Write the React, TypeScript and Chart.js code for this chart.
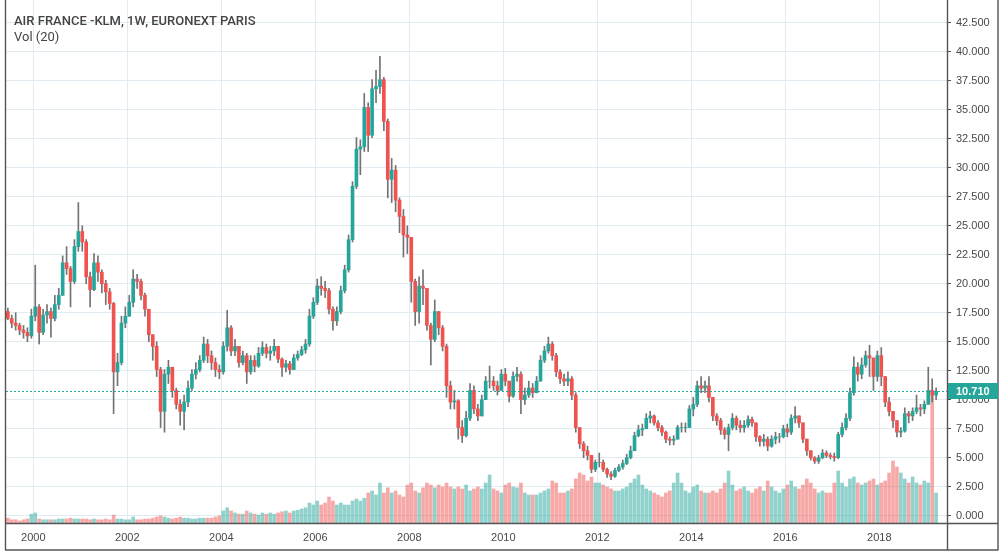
import React, { useEffect, useRef } from 'react';
import { Chart, registerables } from 'chart.js';

Chart.register(...registerables);

// Monthly candles, first candle = June 1999, last = March 2019
const START_YEAR = 1999;
const START_MONTH = 6;
const FIRST_OPEN = 17.6;

const CLOSE = [
  17.0, 16.6, 16.4, 16.0, 15.8, 15.5, 17.2,
  18.0, 15.8, 17.3, 17.6, 17.0, 18.2, 19.0, 21.8, 21.3, 20.2, 23.2, 24.5,
  23.6, 20.6, 19.5, 21.8, 21.0, 20.0, 19.3, 18.3, 12.4, 13.2, 16.6, 17.2,
  18.4, 20.4, 20.2, 19.0, 17.8, 15.6, 14.6, 12.6, 9.0, 12.2, 12.8, 10.8,
  9.6, 9.0, 9.8, 11.0, 12.2, 12.6, 13.4, 14.8, 13.8, 13.2, 12.6, 12.4,
  14.6, 16.2, 14.2, 14.6, 13.2, 13.8, 12.4, 13.4, 12.9, 14.0, 14.5, 14.0,
  14.2, 14.6, 13.5, 12.8, 13.1, 12.6, 13.6, 13.9, 14.3, 14.8, 17.2, 18.4,
  19.8, 19.6, 19.4, 17.8, 16.8, 17.6, 19.4, 21.2, 23.8, 28.4, 31.6, 31.8,
  35.2, 32.8, 36.8, 37.0, 37.6, 34.0, 29.0, 29.8, 27.2, 25.8, 24.2, 24.0,
  20.2, 17.6, 19.8, 19.6, 16.4, 15.2, 17.6, 16.2, 14.6, 11.2, 9.8, 9.9,
  7.6, 6.9, 8.4, 10.8, 9.2, 8.6, 10.0, 11.6, 11.6, 11.2, 10.8, 12.2,
  11.6, 10.3, 12.0, 12.2, 10.0, 10.4, 11.0, 10.6, 11.6, 13.4, 14.2, 14.8,
  13.8, 12.4, 11.8, 11.6, 11.8, 10.4, 7.6, 6.2, 5.6, 5.2, 4.0, 4.6,
  4.6, 4.0, 3.6, 3.4, 3.9, 4.2, 4.5, 5.0, 5.6, 6.9, 7.4, 7.5,
  8.4, 8.6, 8.0, 7.6, 7.2, 6.6, 6.5, 6.6, 7.6, 7.6, 7.6, 9.2,
  9.6, 11.2, 11.0, 11.2, 10.2, 8.6, 8.2, 7.4, 7.0, 7.6, 8.4, 7.8,
  7.6, 7.8, 8.3, 8.0, 6.8, 6.4, 6.6, 6.0, 6.6, 6.8, 6.8, 7.5,
  7.2, 8.4, 8.6, 8.0, 6.6, 5.6, 5.0, 4.7, 5.0, 5.4, 5.2, 5.1,
  5.0, 7.0, 7.6, 8.4, 10.6, 12.8, 12.2, 13.0, 13.8, 13.6, 12.0, 13.8,
  12.0, 9.8, 9.0, 8.2, 7.2, 7.3, 8.8, 8.6, 9.0, 9.3, 9.2, 9.6,
  10.8, 10.4, 10.71,
];

const HIGH = [
  17.9, 17.3, 17.5, 16.6, 16.4, 16.2, 17.8,
  21.6, 18.2, 17.8, 18.2, 17.9, 19.0, 19.6, 22.4, 23.2, 21.5, 23.8, 27.0,
  25.0, 23.8, 21.0, 22.6, 22.4, 21.2, 20.3, 19.6, 18.4, 14.0, 17.2, 18.0,
  19.0, 21.2, 20.8, 20.4, 19.2, 17.6, 15.4, 15.0, 12.8, 12.6, 13.4, 12.4,
  11.0, 10.0, 10.4, 11.6, 12.6, 13.2, 13.8, 15.4, 15.2, 14.2, 13.6, 13.0,
  15.0, 17.7, 16.4, 15.2, 14.6, 14.2, 14.0, 13.8, 13.8, 14.5, 15.0, 14.8,
  14.6, 15.2, 14.6, 13.6, 13.4, 13.3, 13.9, 14.2, 14.6, 15.2, 17.8, 18.8,
  20.4, 20.6, 20.2, 19.6, 18.0, 18.0, 19.8, 21.6, 24.2, 28.8, 32.6, 32.4,
  36.4, 35.6, 37.6, 38.4, 39.6, 37.8, 34.2, 30.8, 30.2, 27.4, 26.4, 25.0,
  23.0, 20.4, 20.6, 21.2, 19.0, 16.6, 18.6, 17.6, 16.4, 14.8, 11.6, 10.8,
  10.0, 8.2, 9.0, 11.4, 11.2, 9.6, 10.4, 12.0, 12.9, 12.0, 11.6, 12.6,
  12.7, 11.6, 12.4, 12.8, 12.4, 11.0, 11.6, 11.4, 12.0, 13.8, 14.6, 15.4,
  15.0, 14.0, 12.6, 12.2, 12.4, 12.0, 10.6, 7.4, 6.4, 6.0, 5.2, 4.8,
  5.4, 4.8, 4.1, 3.8, 4.1, 4.4, 4.8, 5.3, 6.0, 7.2, 7.8, 7.9,
  8.8, 9.0, 8.7, 8.2, 7.8, 7.3, 6.8, 6.9, 7.8, 8.0, 8.0, 9.5,
  10.2, 11.6, 12.0, 11.6, 12.0, 10.2, 8.8, 8.4, 7.6, 7.9, 8.8, 8.6,
  8.2, 8.2, 8.6, 8.5, 8.0, 6.9, 7.0, 6.8, 6.9, 7.2, 7.1, 7.8,
  7.9, 8.7, 9.4, 8.6, 8.0, 6.6, 5.6, 5.1, 5.2, 5.7, 5.6, 5.4,
  5.4, 7.2, 8.0, 8.8, 11.0, 13.7, 13.2, 13.6, 14.2, 14.7, 13.6, 14.2,
  14.5, 12.0, 10.2, 9.0, 8.2, 7.6, 9.3, 9.0, 9.3, 10.4, 9.6, 9.9,
  12.8, 11.8, 11.0,
];

const LOW = [
  16.9, 16.2, 16.0, 15.6, 15.3, 15.0, 15.3,
  16.8, 14.8, 15.6, 16.6, 15.4, 16.8, 17.8, 19.2, 20.8, 18.0, 20.0, 22.8,
  22.8, 20.0, 18.0, 19.4, 20.2, 19.2, 18.2, 17.8, 8.8, 11.2, 13.0, 16.2,
  17.4, 18.0, 19.6, 18.6, 17.2, 15.0, 13.4, 12.0, 7.6, 7.2, 11.4, 10.2,
  9.2, 7.8, 7.4, 9.4, 10.8, 11.8, 12.4, 13.2, 13.2, 12.6, 12.0, 11.8,
  12.2, 14.2, 13.8, 13.8, 12.8, 13.0, 11.4, 12.2, 12.4, 12.8, 13.8, 13.6,
  13.4, 13.8, 13.2, 12.0, 12.4, 12.2, 12.6, 13.4, 13.8, 14.0, 14.6, 17.0,
  18.2, 19.0, 18.8, 17.4, 16.0, 16.4, 17.4, 19.2, 21.0, 23.6, 28.2, 29.4,
  31.4, 31.4, 32.6, 35.6, 36.4, 33.2, 27.4, 27.0, 26.2, 24.4, 22.3, 22.6,
  18.4, 16.4, 16.6, 18.2, 16.0, 13.0, 15.0, 15.6, 14.2, 10.2, 9.2, 9.2,
  6.6, 6.3, 6.8, 8.2, 8.8, 8.2, 8.6, 10.0, 11.0, 10.8, 10.4, 10.8,
  11.2, 9.8, 10.2, 11.6, 8.8, 9.6, 10.2, 10.2, 10.6, 11.6, 13.2, 14.0,
  13.4, 12.0, 11.4, 11.2, 11.2, 10.0, 7.2, 5.8, 5.0, 4.8, 3.7, 3.8,
  4.2, 3.8, 3.3, 3.1, 3.3, 3.8, 4.0, 4.4, 4.9, 5.6, 6.8, 6.9,
  7.6, 8.0, 7.8, 7.3, 6.9, 6.3, 6.1, 6.1, 6.6, 7.2, 7.2, 7.6,
  8.6, 9.4, 10.6, 10.6, 9.8, 8.2, 7.8, 7.0, 6.6, 5.6, 7.4, 7.4,
  7.2, 7.2, 7.6, 7.7, 6.4, 6.0, 6.0, 5.6, 5.9, 6.2, 6.3, 6.7,
  6.8, 7.0, 8.0, 7.6, 6.3, 5.2, 4.8, 4.5, 4.5, 4.9, 5.0, 4.9,
  4.7, 4.9, 6.8, 7.4, 8.2, 10.4, 11.6, 11.8, 12.8, 12.0, 10.8, 11.6,
  11.2, 9.4, 8.6, 7.6, 6.8, 6.8, 7.2, 8.0, 8.2, 8.8, 8.6, 8.8,
  9.6, 9.8, 10.0,
];

// Volume, millions of shares (approximate)
const VOLUME = [
  1.2, 0.8, 0.8, 0.5, 0.8, 1.0, 2.2,
  2.5, 1.0, 0.8, 0.8, 0.8, 0.8, 1.0, 1.0, 1.0, 1.2, 1.0, 1.0,
  1.0, 1.0, 0.8, 1.0, 0.8, 0.8, 1.0, 0.8, 2.0, 1.0, 1.0, 0.8,
  0.8, 1.5, 0.8, 0.8, 1.0, 1.0, 1.2, 1.5, 1.8, 1.5, 1.2, 1.0,
  1.2, 1.5, 1.2, 1.2, 1.0, 1.0, 1.2, 1.2, 1.2, 1.2, 1.5, 1.8,
  3.0, 3.8, 3.0, 2.5, 2.2, 2.2, 3.0, 2.5, 2.2, 2.0, 2.5, 2.2,
  2.5, 2.2, 2.5, 2.8, 3.0, 2.5, 3.0, 3.2, 3.5, 3.8, 5.0, 4.5,
  5.5, 4.5, 5.0, 6.5, 5.5, 4.5, 5.0, 4.5, 4.5, 5.5, 6.0, 5.5,
  6.2, 7.5, 8.0, 7.0, 10.0, 7.5, 8.8, 7.5, 8.0, 7.0, 6.5, 9.5,
  10.0, 8.0, 7.5, 8.8, 10.0, 9.5, 8.8, 9.5, 9.0, 10.0, 9.0, 8.5,
  9.0, 8.5, 9.5, 8.0, 8.5, 9.0, 8.5, 10.0, 12.0, 8.5, 8.0, 7.5,
  9.5, 10.0, 9.0, 8.8, 10.0, 7.5, 7.0, 7.0, 7.0, 7.5, 8.0, 8.5,
  10.5, 10.0, 7.5, 7.5, 8.0, 8.5, 11.0, 12.5, 12.0, 10.5, 11.5, 10.0,
  10.0, 9.5, 9.0, 8.5, 8.0, 8.0, 8.5, 9.0, 10.0, 11.0, 12.0, 9.5,
  8.5, 8.0, 7.5, 7.0, 6.5, 7.5, 8.0, 10.0, 12.5, 10.0, 8.0, 7.5,
  9.0, 9.5, 8.0, 7.5, 7.5, 8.0, 7.5, 8.5, 10.0, 13.0, 9.5, 8.0,
  8.5, 9.0, 8.0, 7.5, 8.5, 9.0, 8.0, 10.5, 9.0, 8.0, 7.5, 8.5,
  9.5, 10.5, 9.0, 8.5, 9.5, 11.0, 10.0, 8.5, 7.5, 8.0, 7.5, 7.5,
  10.0, 13.0, 10.0, 9.0, 11.0, 11.5, 10.0, 9.5, 10.0, 10.5, 11.0, 9.5,
  10.0, 10.5, 12.5, 15.5, 14.0, 12.5, 11.0, 10.0, 11.5, 10.0, 9.5, 10.5,
  10.0, 32.0, 7.5,
];

const PRICE_TICKS = [0, 2.5, 5, 7.5, 10, 12.5, 15, 17.5, 20, 22.5, 25, 27.5, 30, 32.5, 35, 37.5, 40, 42.5];
const YEAR_TICKS = [2000, 2002, 2004, 2006, 2008, 2010, 2012, 2014, 2016, 2018];
const LAST_PRICE = 10.71;
const TITLE = 'AIR FRANCE -KLM, 1W, EURONEXT PARIS';
const SUBTITLE = 'Vol (20)';

const UP = '#26a69a';
const DOWN = '#ef5350';
const UP_VOL = 'rgba(38,166,154,0.5)';
const DOWN_VOL = 'rgba(239,83,80,0.5)';
const WICK = '#737375';
const GRID = '#e1ecf2';
const FRAME = '#555555';
const TEXT = '#4a4a4a';
const FONT = '"Liberation Sans", Arial, sans-serif';

export default function App() {
  const canvasRef = useRef<HTMLCanvasElement | null>(null);

  useEffect(() => {
    document.body.style.margin = '0';
    const canvas = canvasRef.current;
    if (!canvas) return;

    const xs = CLOSE.map((_, i) => START_YEAR + (START_MONTH - 1 + i + 0.5) / 12);
    const opens = CLOSE.map((_, i) => (i === 0 ? FIRST_OPEN : CLOSE[i - 1]));
    const isUp = CLOSE.map((c, i) => c >= opens[i]);

    const bodies = CLOSE.map((c, i) => ({ x: xs[i], y: [opens[i], c] }));
    const wicks = CLOSE.map((c, i) => ({
      x: xs[i],
      y: [Math.min(LOW[i], opens[i], c), Math.max(HIGH[i], opens[i], c)],
    }));
    const vols = VOLUME.map((v, i) => ({ x: xs[i], y: v }));

    const overlay = {
      id: 'overlay',
      afterDraw(chart: any) {
        const { ctx, chartArea, scales } = chart;
        const yy = Math.round(scales.y.getPixelForValue(LAST_PRICE)) + 0.5;
        ctx.save();
        ctx.strokeStyle = UP;
        ctx.lineWidth = 1;
        ctx.setLineDash([2, 2]);
        ctx.beginPath();
        ctx.moveTo(chartArea.left, yy);
        ctx.lineTo(chartArea.right, yy);
        ctx.stroke();
        ctx.setLineDash([]);

        ctx.strokeStyle = FRAME;
        ctx.lineWidth = 1.4;
        ctx.beginPath();
        ctx.moveTo(5.5, 0); ctx.lineTo(5.5, 550);
        ctx.moveTo(947.5, 0); ctx.lineTo(947.5, 550);
        ctx.moveTo(998, 0); ctx.lineTo(998, 550);
        ctx.moveTo(5, 523.5); ctx.lineTo(998, 523.5);
        ctx.moveTo(5, 550); ctx.lineTo(998.5, 550);
        ctx.stroke();

        ctx.fillStyle = UP;
        ctx.fillRect(948, yy - 8.5, 50, 16);
        ctx.fillStyle = '#ffffff';
        ctx.font = `bold 11px ${FONT}`;
        ctx.textBaseline = 'middle';
        ctx.textAlign = 'left';
        ctx.fillText(LAST_PRICE.toFixed(3), 956, yy);
        ctx.restore();
      },
    };

    const chart = new Chart(canvas, {
      type: 'bar',
      data: {
        datasets: [
          {
            label: 'body',
            data: bodies as any,
            backgroundColor: isUp.map((u) => (u ? UP : DOWN)),
            yAxisID: 'y',
            grouped: false,
            barPercentage: 1,
            categoryPercentage: 1,
            maxBarThickness: 3,
            borderWidth: 0,
            order: 1,
          } as any,
          {
            label: 'wick',
            data: wicks as any,
            backgroundColor: WICK,
            yAxisID: 'y',
            grouped: false,
            barPercentage: 1,
            categoryPercentage: 1,
            maxBarThickness: 1,
            borderWidth: 0,
            order: 2,
          } as any,
          {
            label: 'volume',
            data: vols as any,
            backgroundColor: isUp.map((u) => (u ? UP_VOL : DOWN_VOL)),
            yAxisID: 'yVol',
            grouped: false,
            barPercentage: 1,
            categoryPercentage: 1,
            maxBarThickness: 3,
            borderWidth: 0,
            order: 3,
          } as any,
        ],
      },
      options: {
        animation: false,
        responsive: false,
        devicePixelRatio: 1,
        layout: { padding: { left: 6, top: 0, right: 0, bottom: 0 } },
        plugins: {
          legend: { display: false },
          tooltip: { enabled: false },
          title: { display: false },
        },
        scales: {
          x: {
            type: 'linear',
            min: 1999.419,
            max: 2019.44,
            offset: false,
            grid: { color: GRID, drawTicks: false, offset: false, lineWidth: 1 },
            border: { display: false },
            ticks: {
              autoSkip: false,
              maxRotation: 0,
              padding: 8,
              color: TEXT,
              font: { family: FONT, size: 11 },
              callback: (v: any) => String(v),
            },
            afterBuildTicks: (s: any) => {
              s.ticks = YEAR_TICKS.map((v) => ({ value: v }));
            },
            afterFit: (s: any) => {
              s.height = 35;
              s.paddingLeft = 0;
              s.paddingRight = 0;
            },
          },
          y: {
            type: 'linear',
            position: 'right',
            min: -0.63,
            max: 44.46,
            grid: { color: GRID, tickColor: FRAME, tickLength: 4, lineWidth: 1 },
            border: { display: false },
            ticks: {
              autoSkip: false,
              padding: 5,
              color: TEXT,
              font: { family: FONT, size: 11 },
              callback: (v: any) => Number(v).toFixed(3),
            },
            afterBuildTicks: (s: any) => {
              s.ticks = PRICE_TICKS.map((v) => ({ value: v }));
            },
            afterFit: (s: any) => {
              s.width = 56;
              s.paddingTop = 0;
              s.paddingBottom = 0;
            },
          },
          yVol: {
            type: 'linear',
            display: false,
            position: 'left',
            min: 0,
            max: 130.75,
          },
        },
      } as any,
      plugins: [overlay],
    });

    return () => chart.destroy();
  }, []);

  return (
    <div style={{ position: 'relative', width: 1003, height: 558, background: '#fff' }}>
      <canvas ref={canvasRef} width={1003} height={558} style={{ display: 'block', width: 1003, height: 558 }} />
      <div
        style={{
          position: 'absolute',
          left: 14,
          top: 13,
          font: '500 13px Roboto, "Liberation Sans", Arial, sans-serif',
          lineHeight: '16px',
          color: '#444',
          whiteSpace: 'nowrap',
        }}
      >
        {TITLE}
      </div>
      <div
        style={{
          position: 'absolute',
          left: 14,
          top: 29,
          font: '400 13px Roboto, "Liberation Sans", Arial, sans-serif',
          lineHeight: '16px',
          color: '#444',
          whiteSpace: 'nowrap',
        }}
      >
        {SUBTITLE}
      </div>
    </div>
  );
}
